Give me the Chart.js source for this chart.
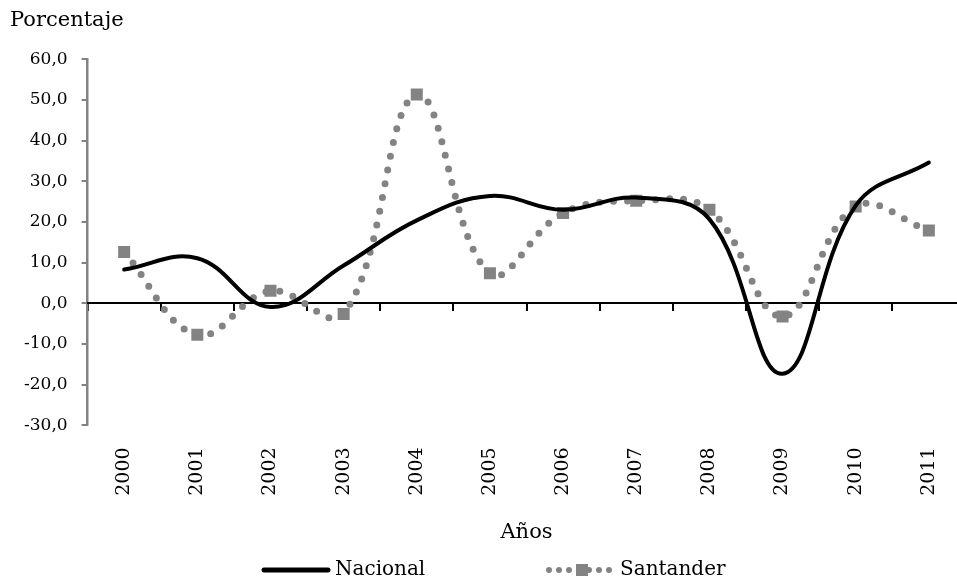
<!DOCTYPE html>
<html>
<head>
<meta charset="utf-8">
<script src="https://cdn.jsdelivr.net/npm/chart.js@4/dist/chart.umd.min.js"></script>
<style>
  html, body { margin: 0; padding: 0; background: #fff; overflow: hidden; }
  #wrap { width: 974px; height: 581px; }
</style>
</head>
<body>
<div id="wrap"><canvas id="chart"></canvas></div>
<script>
const years = ['2000', '2001', '2002', '2003', '2004', '2005', '2006', '2007', '2008', '2009', '2010', '2011'];
const nacional = [8.3, 11.1, -0.9, 9.3, 20.4, 26.4, 23.0, 26.0, 20.7, -17.3, 24.0, 34.6];
const santander = [12.6, -7.7, 3.1, -2.6, 51.3, 7.4, 22.2, 25.2, 23.0, -3.2, 23.8, 17.9];

const FONT = 'DejaVu Serif';
Chart.defaults.font.family = FONT;
Chart.defaults.font.size = 17;
Chart.defaults.color = '#000';

const gray = '#838383';

// legend drawn by hand: line samples like the original
const bottomLegend = {
  id: 'bottomLegend',
  afterDraw(chart) {
    const ctx = chart.ctx;
    const y = 570;
    ctx.save();
    ctx.font = '20px ' + FONT;
    ctx.textBaseline = 'middle';
    ctx.fillStyle = '#000';

    ctx.strokeStyle = '#000';
    ctx.lineWidth = 5;
    ctx.lineCap = 'round';
    ctx.beginPath();
    ctx.moveTo(264, y);
    ctx.lineTo(328, y);
    ctx.stroke();
    ctx.fillText('Nacional', 335, y);

    ctx.strokeStyle = gray;
    ctx.lineWidth = 6;
    ctx.setLineDash([0, 10]);
    ctx.beginPath();
    ctx.moveTo(549, y);
    ctx.lineTo(611, y);
    ctx.stroke();
    ctx.setLineDash([]);
    ctx.fillStyle = gray;
    ctx.fillRect(576, y - 6, 12, 12);
    ctx.fillStyle = '#000';
    ctx.fillText('Santander', 620, y);
    ctx.restore();
  }
};

new Chart(document.getElementById('chart'), {
  type: 'line',
  data: {
    labels: years,
    datasets: [
      {
        label: 'Nacional',
        data: nacional,
        borderColor: '#000',
        borderWidth: 4,
        pointRadius: 0,
        tension: 0.4,
        borderCapStyle: 'round',
      },
      {
        label: 'Santander',
        data: santander,
        borderColor: gray,
        borderWidth: 7,
        borderDash: [0, 14],
        borderCapStyle: 'round',
        pointStyle: 'rect',
        pointRadius: 8.5,
        pointBackgroundColor: gray,
        pointBorderWidth: 0,
        tension: 0.4,
      },
    ],
  },
  options: {
    responsive: true,
    maintainAspectRatio: false,
    animation: false,
    layout: { padding: { left: 10, right: 7, top: 0, bottom: 36 } },
    plugins: {
      legend: { display: false },
      tooltip: { enabled: false },
      title: {
        display: true,
        text: 'Porcentaje',
        align: 'start',
        font: { size: 21, weight: 'normal' },
        padding: { top: 8, bottom: 26 },
      },
    },
    scales: {
      y: {
        min: -30,
        max: 60,
        ticks: {
          stepSize: 10,
          padding: 14,
          callback: (v) => v.toFixed(1).replace('.', ','),
        },
        border: { color: gray, width: 2.5 },
        grid: { drawOnChartArea: false, drawTicks: true, tickLength: 6, color: gray, lineWidth: 2 },
      },
      x: {
        offset: true,
        ticks: { minRotation: 90, maxRotation: 90, padding: 22, font: { size: 19 } },
        border: { display: false },
        grid: { display: false, drawTicks: false },
        title: { display: true, text: 'Años', font: { size: 21 }, padding: { top: 2, bottom: 0 } },
      },
      x0: {
        type: 'category',
        axis: 'x',
        labels: years,
        position: { y: 0 },
        offset: true,
        ticks: { display: false },
        border: { color: '#000', width: 2 },
        grid: { offset: true, drawOnChartArea: false, drawTicks: true, tickLength: 7, color: '#000', lineWidth: 2 },
      },
    },
  },
  plugins: [bottomLegend],
});
</script>
</body>
</html>
